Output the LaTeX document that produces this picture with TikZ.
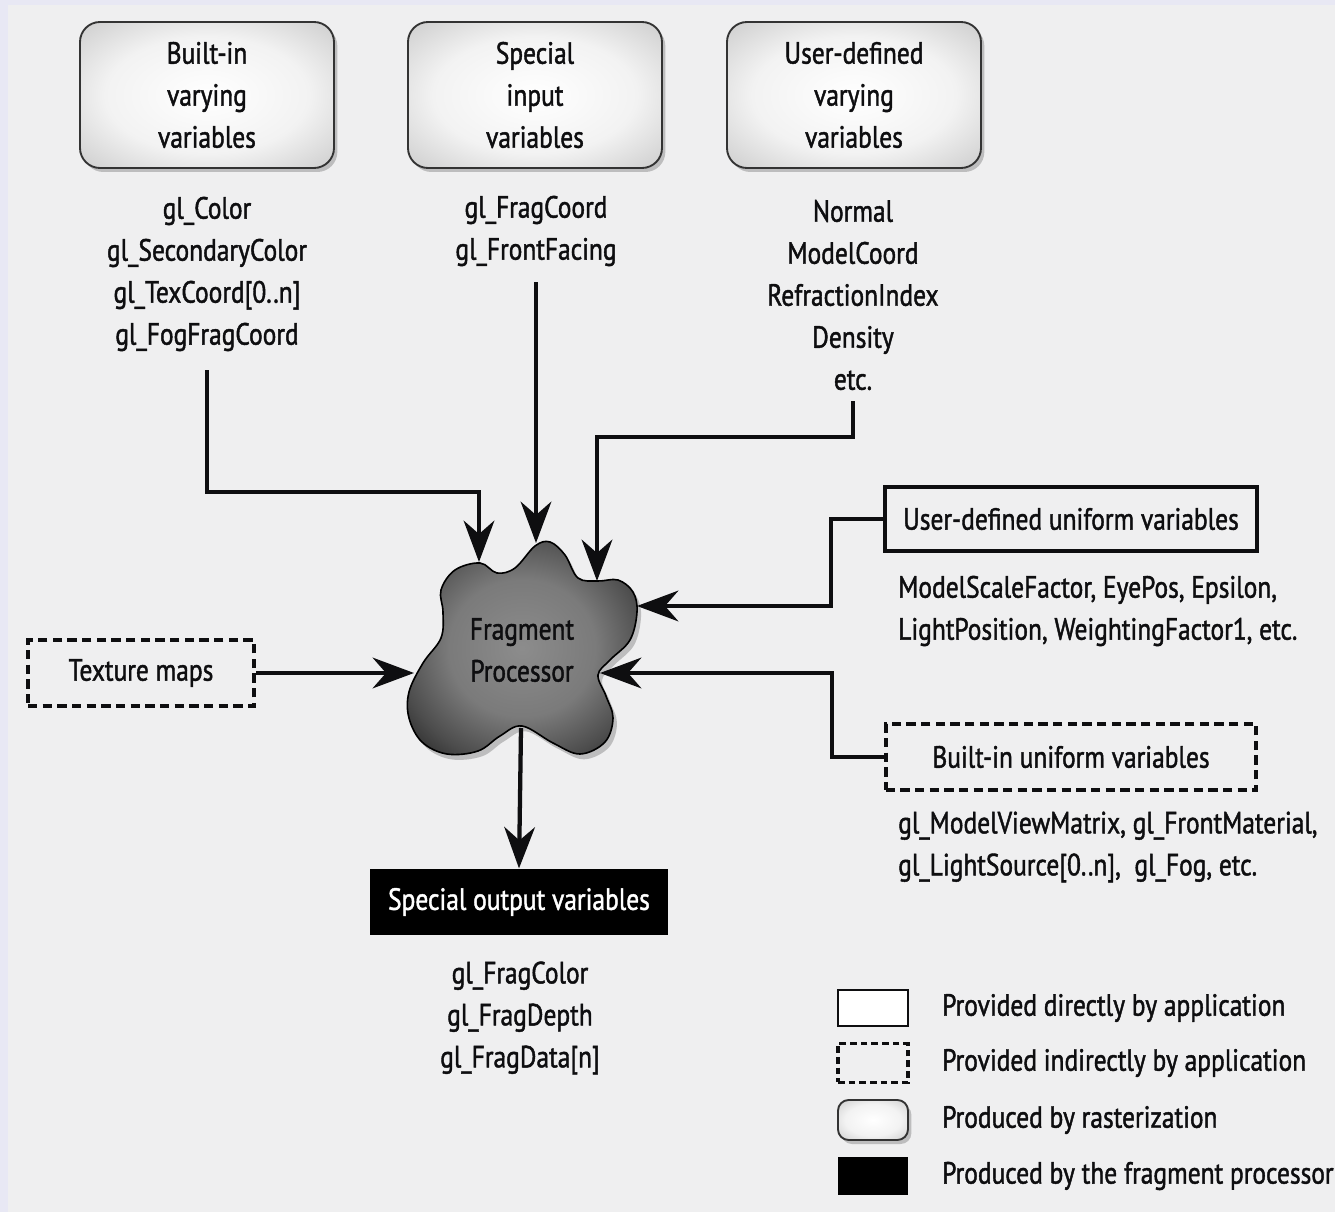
\documentclass[tikz,border=0pt]{standalone}
\usepackage{fontspec}
\setmainfont{PT Sans}[FakeStretch=0.83, FakeBold=1.4]
\usetikzlibrary{arrows.meta,shadows}
\definecolor{edge}{RGB}{232,232,244}
\definecolor{bg}{RGB}{239,239,240}
\definecolor{ink}{RGB}{14,14,16}
\pgfdeclareradialshading{blobshade}{\pgfpoint{0bp}{0bp}}{color(0bp)=(black!45); color(16bp)=(black!52); color(27bp)=(black!70); color(36bp)=(black!88); color(50bp)=(black)}
\pgfdeclareradialshading{boxshade}{\pgfpoint{0bp}{0bp}}{color(0bp)=(white); color(20bp)=(black!5); color(38bp)=(black!22); color(50bp)=(black!40)}
\begin{document}
\begin{tikzpicture}[x=0.75pt, y=-0.75pt,
  font=\fontsize{23}{31.5}\selectfont, text=ink,
  arr/.style={line width=3.2pt, draw=ink, -{Stealth[length=31pt,width=23pt,inset=10pt]}},
  rast/.style={draw=black!80, line width=1.4pt, rounded corners=15pt, shade, shading=boxshade,
    drop shadow={shadow xshift=2.5pt, shadow yshift=-3pt, opacity=0.3, fill=black!70},
    align=center, inner sep=0pt},
  direct/.style={draw=ink, line width=3.2pt, fill=bg, inner sep=0pt},
  indirect/.style={draw=ink, line width=3.2pt, dash pattern=on 7pt off 4pt, fill=bg, inner sep=0pt},
  outbox/.style={fill=black, text=white, inner sep=0pt},
  lst/.style={align=center, inner sep=0pt},
  lftxt/.style={anchor=west, align=left, inner sep=0pt}]
\fill[edge] (0,0) rectangle (1335,1212);
\fill[bg] (8,5) rectangle (1335,1212);
\useasboundingbox (0,0) rectangle (1335,1212);

% top raster boxes
\node[rast, minimum width=190.5pt, minimum height=109.5pt] (b1) at (207,95) {Built-in\\varying\\variables};
\node[rast, minimum width=190.5pt, minimum height=109.5pt] (b2) at (535,95) {Special\\input\\variables};
\node[rast, minimum width=190.5pt, minimum height=109.5pt] (b3) at (854,95) {User-defined\\varying\\variables};

% lists
\node[lst] (l1) at (207,274) {gl\_Color\\gl\_SecondaryColor\\gl\_TexCoord[0..n]\\gl\_FogFragCoord};
\node[lst] (l2) at (536,231) {gl\_FragCoord\\gl\_FrontFacing};
\node[lst] (l3) at (853,295) {Normal\\ModelCoord\\RefractionIndex\\Density\\etc.};

% fragment processor blob
\draw[line width=1.2pt, draw=black, shade, shading=blobshade,
  drop shadow={shadow xshift=3pt, shadow yshift=-4pt, opacity=0.3, fill=black!70}]
  plot[smooth cycle, tension=0.6] coordinates {
  (480,563) (497,573) (515,568) (535,546) (550,542) (565,555) (578,578)
  (598,581) (618,580) (633,592) (637,612) (630,640) (610,660) (598,675)
  (606,696) (613,718) (605,742) (580,754) (553,743) (522,726)
  (500,736) (478,751) (447,754) (422,742) (409,718) (409,692) (423,663)
  (441,638) (443,612) (441,590) (455,570)};
\node[align=center, inner sep=0pt] (fp) at (522,650) {Fragment\\Processor};

\coordinate (t1) at (479,562);
\coordinate (t2) at (536,543);
\coordinate (t3) at (597,581);
\coordinate (t4) at (637,606);
\coordinate (t5) at (600,673);
\coordinate (t6) at (414,673);
\coordinate (bo) at (521,728);
\coordinate (k1) at (479,492);
\coordinate (k3) at (597,437);
\coordinate (k4) at (831,519);
\coordinate (k5) at (832,757);

% side boxes
\node[direct, minimum width=279pt, minimum height=48pt] (ub) at (1071,519) {User-defined uniform variables};
\node[lftxt] (ut) at (898,611) {ModelScaleFactor, EyePos, Epsilon,\\LightPosition, WeightingFactor1, etc.};
\node[indirect, minimum width=278pt, minimum height=49.5pt] (bb) at (1071,757) {Built-in uniform variables};
\node[lftxt] (bt) at (898,847) {gl\_ModelViewMatrix, gl\_FrontMaterial,\\gl\_LightSource[0..n],\ \ gl\_Fog, etc.};
\node[indirect, minimum width=169.5pt, minimum height=49.5pt] (tm) at (141,673) {Texture maps};

% output
\node[outbox, minimum width=223.5pt, minimum height=50pt] (ob) at (519,902) {Special output variables};
\node[lst] (ol) at (520,1018) {gl\_FragColor\\gl\_FragDepth\\gl\_FragData[n]};

% connectors
\draw[arr] ([yshift=-14pt]l1.south) |- (k1) -- (t1);
\draw[arr] ([yshift=-12pt]l2.south) -- (t2);
\draw[arr] ([yshift=-8pt]l3.south) |- (k3) -- (t3);
\draw[arr] (ub.west) -- (k4) |- (t4);
\draw[arr] (bb.west) -- (k5) |- (t5);
\draw[arr] (tm.east) -- (t6);
\draw[arr] (bo) -- (ob.north);

% legend
\node[direct, line width=2pt, fill=white, minimum width=52.5pt, minimum height=27pt] (lg1) at (873,1008) {};
\node[indirect, line width=2.5pt, dash pattern=on 5pt off 3pt, minimum width=52.5pt, minimum height=29pt] (lg2) at (873,1063) {};
\node[rast, rounded corners=8pt, minimum width=52.5pt, minimum height=30pt] (lg3) at (873,1120) {};
\node[outbox, minimum width=52.5pt, minimum height=28.5pt] (lg4) at (873,1176) {};
\node[lftxt] (lt1) at (942,1008) {Provided directly by application};
\node[lftxt] (lt2) at (942,1063) {Provided indirectly by application};
\node[lftxt] (lt3) at (942,1120) {Produced by rasterization};
\node[lftxt] (lt4) at (942,1176) {Produced by the fragment processor};
\end{tikzpicture}
\end{document}
